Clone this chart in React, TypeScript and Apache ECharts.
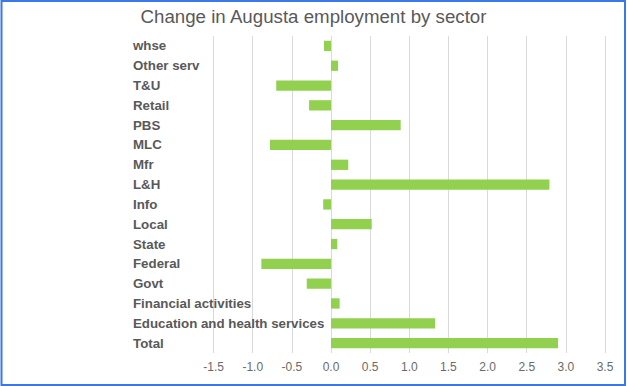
import React, { useEffect, useRef } from "react";
import * as echarts from "echarts";

const categories = [
  "Total",
  "Education and health services",
  "Financial activities",
  "Govt",
  "Federal",
  "State",
  "Local",
  "Info",
  "L&H",
  "Mfr",
  "MLC",
  "PBS",
  "Retail",
  "T&U",
  "Other serv",
  "whse",
];
const changes = [2.9, 1.33, 0.11, -0.31, -0.89, 0.08, 0.52, -0.1, 2.79, 0.22, -0.78, 0.89, -0.28, -0.7, 0.09, -0.09];
const titleText = "Change in Augusta employment by sector";

export default function App() {
  const ref = useRef<HTMLDivElement>(null);
  useEffect(() => {
    const chart = echarts.init(ref.current!, null, { renderer: "svg" });
    chart.setOption({
      animation: false,
      backgroundColor: "#ffffff",
      title: {
        text: titleText,
        left: "center",
        top: 2,
        textStyle: { color: "#595959", fontSize: 18.7, fontWeight: "normal", fontFamily: "Liberation Sans, Arial, sans-serif" },
      },
      graphic: [
        {
          type: "rect",
          shape: { x: 1.5, y: 1, width: 623.5, height: 384 },
          style: { fill: "none", stroke: "#3b78e7", lineWidth: 2 },
          z: 100,
        },
      ],
      grid: { left: 213.6, right: 22, top: 36, bottom: 33, containLabel: false },
      xAxis: {
        type: "value",
        min: -1.5,
        max: 3.5,
        interval: 0.5,
        axisLine: { show: false },
        axisTick: { show: false },
        splitLine: { show: true, lineStyle: { color: "#d9d9d9", width: 1 } },
        axisLabel: {
          color: "#6a6a6a",
          fontSize: 12,
          fontFamily: "Liberation Sans, Arial, sans-serif",
          margin: 8,
          formatter: (v: number) => v.toFixed(1),
        },
      },
      yAxis: {
        type: "category",
        data: categories,
        axisLine: { show: false },
        axisTick: { show: false },
        splitLine: { show: false },
        axisLabel: {
          color: "#595959",
          fontSize: 13.3,
          fontWeight: "bold",
          fontFamily: "Liberation Sans, Arial, sans-serif",
          align: "left",
          margin: 80.6,
        },
      },
      series: [
        {
          type: "bar",
          data: changes,
          barWidth: "52%",
          itemStyle: { color: "#92d050" },
        },
      ],
    });
    return () => chart.dispose();
  }, []);
  return (
    <div style={{ position: "fixed", left: 0, top: 0, width: 627, height: 386 }}>
      <div ref={ref} style={{ width: 627, height: 386 }} />
    </div>
  );
}
